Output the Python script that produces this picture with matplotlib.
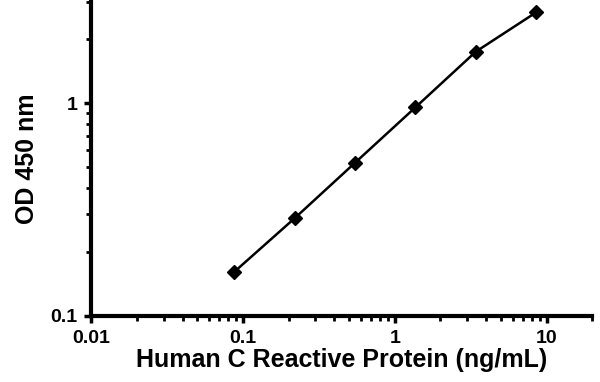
import matplotlib
matplotlib.use("Agg")
import matplotlib.pyplot as plt
from matplotlib.ticker import LogLocator, NullFormatter, FixedLocator, FixedFormatter

conc = [0.0875, 0.219, 0.547, 1.37, 3.42, 8.55]
od = [0.161, 0.288, 0.525, 0.958, 1.75, 2.68]
xticks = [0.01, 0.1, 1, 10]
xticklabels = ["0.01", "0.1", "1", "10"]
yticks = [0.1, 1]
yticklabels = ["0.1", "1"]

plt.rcParams['font.family'] = ['Liberation Sans', 'DejaVu Sans']
plt.rcParams['font.weight'] = 'bold'

fig = plt.figure(figsize=(6, 3.82), dpi=100)
ax = fig.add_axes([0.152, 0.173, 0.835, 0.822])

ax.plot(conc, od, color='black', lw=1.8, marker='D', ms=7, mfc='black', mec='black')

ax.set_xscale('log')
ax.set_yscale('log')
ax.set_xlim(0.01, 20)
ax.set_ylim(0.1, 3)

ax.xaxis.set_major_locator(FixedLocator(xticks))
ax.xaxis.set_major_formatter(FixedFormatter(xticklabels))
ax.yaxis.set_major_locator(FixedLocator(yticks))
ax.yaxis.set_major_formatter(FixedFormatter(yticklabels))
ax.xaxis.set_minor_locator(LogLocator(base=10, subs=range(2, 10), numticks=20))
ax.yaxis.set_minor_locator(LogLocator(base=10, subs=range(2, 10), numticks=20))
ax.xaxis.set_minor_formatter(NullFormatter())
ax.yaxis.set_minor_formatter(NullFormatter())

for s in ['top', 'right']:
    ax.spines[s].set_visible(False)
for s in ['left', 'bottom']:
    ax.spines[s].set_linewidth(3)

ax.tick_params(which='major', direction='out', length=5, width=2.5, labelsize=14, pad=5)
ax.tick_params(which='minor', direction='out', length=3.5, width=2)
for lab in ax.get_xticklabels() + ax.get_yticklabels():
    lab.set_fontweight('bold')

ax.set_xlabel('Human C Reactive Protein (ng/mL)', fontsize=18, fontweight='bold', labelpad=1)
ax.set_ylabel('OD 450 nm', fontsize=18, fontweight='bold', labelpad=8)

fig.savefig('out.png', dpi=100)
